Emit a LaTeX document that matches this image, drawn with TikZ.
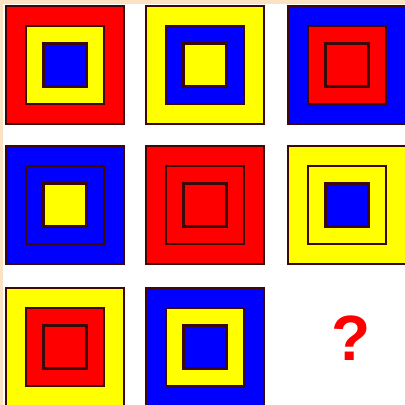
\documentclass[tikz,border=0pt]{standalone}
\usepackage{fontspec}
\setmainfont{Liberation Sans}
\definecolor{pr}{HTML}{FF0000}
\definecolor{py}{HTML}{FFFF00}
\definecolor{pb}{HTML}{0000FF}
\definecolor{edge}{HTML}{3C0808}
\definecolor{peach}{HTML}{FBE2C2}
\begin{document}
\begin{tikzpicture}[x=1pt,y=-1pt,
  sq/.style={draw=edge,line width=2.9pt,rectangle,inner sep=0pt,outer sep=0pt},
  outer/.style={sq,minimum size=118pt},
  mid/.style={sq,minimum size=78pt},
  inn/.style={sq,minimum size=43pt}]
\useasboundingbox (0,0) rectangle (405,405);
\fill[peach] (0,0) rectangle (405,405);
\fill[white] (3,4) rectangle (405,405);
\clip (0,0) rectangle (405,405);
% row 1
\node[outer,fill=pr] (o11) at (65,65) {};
\node[mid,fill=py] (m11) at (o11) {};
\node[inn,fill=pb] (i11) at (o11) {};
\node[outer,fill=py] (o12) at (205,65) {};
\node[mid,fill=pb] (m12) at (o12) {};
\node[inn,fill=py] (i12) at (o12) {};
\node[outer,fill=pb] (o13) at (347,65) {};
\node[mid,fill=pr] (m13) at (o13) {};
\node[inn,fill=pr] (i13) at (o13) {};
% row 2
\node[outer,fill=pb] (o21) at (65,205) {};
\node[mid,fill=pb] (m21) at (o21) {};
\node[inn,fill=py] (i21) at (o21) {};
\node[outer,fill=pr] (o22) at (205,205) {};
\node[mid,fill=pr] (m22) at (o22) {};
\node[inn,fill=pr] (i22) at (o22) {};
\node[outer,fill=py] (o23) at (347,205) {};
\node[mid,fill=py] (m23) at (o23) {};
\node[inn,fill=pb] (i23) at (o23) {};
% row 3
\node[outer,fill=py] (o31) at (65,347) {};
\node[mid,fill=pr] (m31) at (o31) {};
\node[inn,fill=pr] (i31) at (o31) {};
\node[outer,fill=pb] (o32) at (205,347) {};
\node[mid,fill=py] (m32) at (o32) {};
\node[inn,fill=pb] (i32) at (o32) {};
\node[text=pr,font=\fontsize{64}{64}\selectfont\bfseries] (q) at (351,338) {?};
\end{tikzpicture}
\end{document}
